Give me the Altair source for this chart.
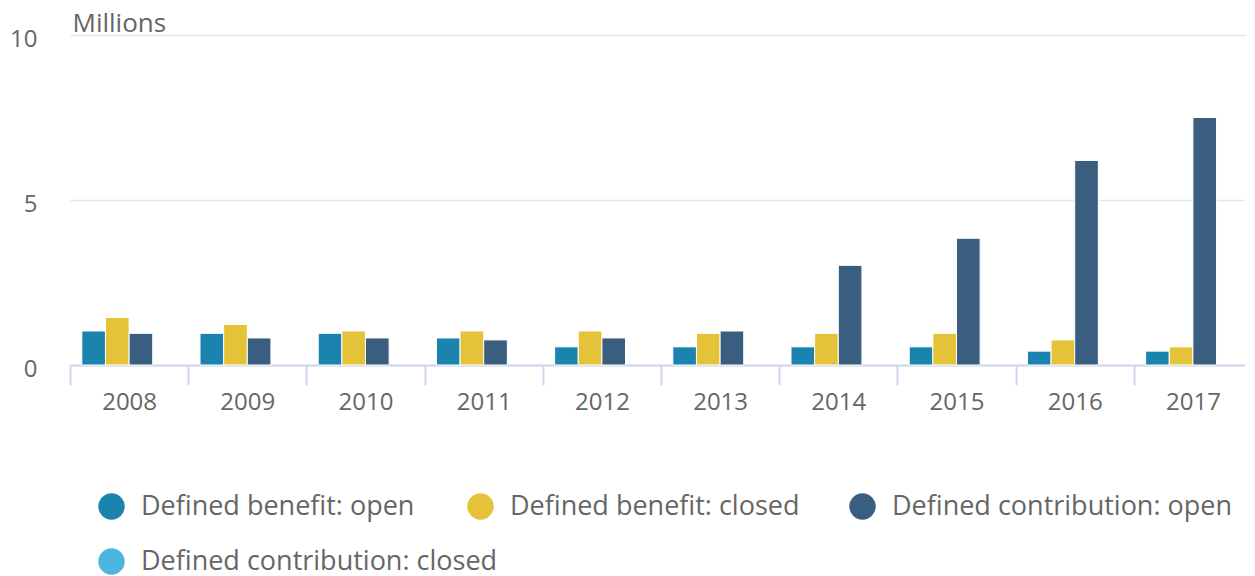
import altair as alt
import pandas as pd

years = [str(y) for y in range(2008, 2018)]
series = [
    "Defined benefit: open",
    "Defined benefit: closed",
    "Defined contribution: open",
    "Defined contribution: closed",
]
db_open = [1.03, 0.96, 0.96, 0.82, 0.55, 0.55, 0.55, 0.55, 0.42, 0.42]
db_closed = [1.44, 1.23, 1.03, 1.03, 1.03, 0.96, 0.96, 0.96, 0.76, 0.55]
dc_open = [0.96, 0.82, 0.82, 0.76, 0.82, 1.03, 3.02, 3.84, 6.2, 7.5]
dc_closed = [None] * 10
colors = ["#1b84ae", "#e4c338", "#3a5e7f", "#4cb6e0"]
y_ticks = [0, 5, 10]

rows = []
for name, vals in zip(series, [db_open, db_closed, dc_open, dc_closed]):
    for yr, v in zip(years, vals):
        rows.append({"year": yr, "series": name, "value": v})
df = pd.DataFrame(rows)

FONT = "Open Sans"
GREY = "#666666"

# legend placement (row/column of each legend entry, Highcharts-style flow layout)
legend_xy = [(28, 458), (397, 458), (779, 458), (28, 513)]

x_enc = alt.X(
    "year:N",
    sort=years,
    scale=alt.Scale(paddingInner=0, paddingOuter=0),
    axis=alt.Axis(
        title=None, labelAngle=0, labelFontSize=24, labelColor=GREY, labelFont=FONT,
        labelPadding=5, labelBaseline="top",
        domainColor="#ccd6eb", domainWidth=2,
        tickColor="#ccd6eb", tickWidth=2, tickSize=20, tickBand="extent",
    ),
)
xo_enc = alt.XOffset(
    "series:N", sort=series,
    scale=alt.Scale(domain=series, paddingInner=0, paddingOuter=0.5),
)
y_enc = alt.Y(
    "value:Q",
    scale=alt.Scale(domain=[0, 10]),
    axis=alt.Axis(
        values=y_ticks, title="Millions", titleAngle=0, titleAlign="left",
        titleX=2, titleY=-4, titleBaseline="alphabetic", titleFontSize=26,
        titleFontWeight="normal", titleColor=GREY, titleFont=FONT,
        labelFontSize=24, labelColor=GREY, labelFont=FONT, labelPadding=33,
        labelBaseline="middle", labelOffset=4,
        domain=False, ticks=False, tickSize=0,
        gridColor="#e6e6e6", gridWidth=1.5,
    ),
)

layers = []
for name, col, (lx, ly) in zip(series, colors, legend_xy):
    layers.append(
        alt.Chart(df)
        .transform_filter(alt.datum.series == name)
        .mark_bar(stroke="white", strokeWidth=1)
        .encode(
            x=x_enc,
            xOffset=xo_enc,
            y=y_enc,
            color=alt.Color(
                "series:N",
                scale=alt.Scale(domain=[name], range=[col]),
                legend=alt.Legend(
                    title=None, orient="none", legendX=lx, legendY=ly,
                    symbolType="circle", symbolSize=700, symbolStrokeWidth=0,
                    labelFontSize=27, labelColor=GREY, labelFont=FONT, labelOffset=16,
                    padding=0, labelLimit=0,
                ),
            ),
        )
    )

chart = alt.layer(*layers).resolve_scale(color="independent").properties(
    width=1182,
    height=330,
    padding={"left": 62, "top": 27, "right": -7, "bottom": 211},
    autosize=alt.AutoSizeParams(type="none"),
).configure_view(stroke=None)

chart.save("out.html", embed_options={"renderer": "svg", "actions": False})
